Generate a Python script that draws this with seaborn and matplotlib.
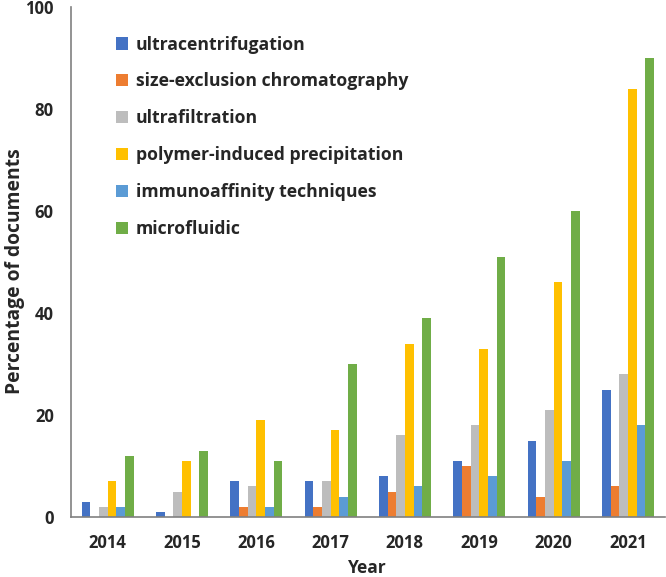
import matplotlib
matplotlib.use("Agg")
import matplotlib.pyplot as plt
import seaborn as sns
import pandas as pd
from matplotlib.patches import Patch

years = ["2014", "2015", "2016", "2017", "2018", "2019", "2020", "2021"]
methods = ["ultracentrifugation", "size-exclusion chromatography", "ultrafiltration",
           "polymer-induced precipitation", "immunoaffinity techniques", "microfluidic"]
ultracentrifugation = [3, 1, 7, 7, 8, 11, 15, 25]
size_exclusion = [0, 0, 2, 2, 5, 10, 4, 6]
ultrafiltration = [2, 5, 6, 7, 16, 18, 21, 28]
polymer_precip = [7, 11, 19, 17, 34, 33, 46, 84]
immunoaffinity = [2, 0, 2, 4, 6, 8, 11, 18]
microfluidic = [12, 13, 11, 30, 39, 51, 60, 90]
colors = ["#4472C4", "#ED7D31", "#BDBDBD", "#FFC000", "#5B9BD5", "#70AD47"]

series = [ultracentrifugation, size_exclusion, ultrafiltration,
          polymer_precip, immunoaffinity, microfluidic]
rows = []
for m, vals in zip(methods, series):
    for y, v in zip(years, vals):
        rows.append({"Year": y, "Method": m, "Value": v})
df = pd.DataFrame(rows)

sns.set_style("white")
plt.rcParams['font.family'] = ['Open Sans', 'DejaVu Sans']

fig = plt.figure(figsize=(6.66, 5.77), dpi=100)
ax = fig.add_axes([70.5/666, 1-517/577, (665-70.5)/666, (517-7)/577])
sns.barplot(data=df, x="Year", y="Value", hue="Method", order=years, hue_order=methods,
            palette=colors, width=0.7, saturation=1, ax=ax, legend=False, errorbar=None,
            linewidth=0, edgecolor="none")

ax.set_xlim(-0.5, 7.5)
ax.set_ylim(0, 100)
ax.set_yticks([0, 20, 40, 60, 80, 100])
for s in ["top", "right"]:
    ax.spines[s].set_visible(False)
for s in ["left", "bottom"]:
    ax.spines[s].set_color("#808080")
    ax.spines[s].set_linewidth(1.2)
ax.set_xticks([-0.5, 7.5], minor=True)
ax.tick_params(axis="both", which="both", direction="out", length=5, width=1.2, color="#808080",
               labelsize=12, pad=7)
for lab in ax.get_xticklabels() + ax.get_yticklabels():
    lab.set_fontweight("bold")
ax.set_xlabel("Year", fontsize=12.5, fontweight="bold")
ax.xaxis.set_label_coords(0.5, -0.083)

ylab = ax.set_ylabel("Percentage of documents", fontsize=12, fontweight="bold")
fig.canvas.draw()
h = ylab.get_window_extent(fig.canvas.get_renderer()).height
ylab.set_fontsize(12 * 245.0 / h)
ylab.set_verticalalignment("center")
ylab.set_rotation_mode("anchor")
ax.yaxis.set_label_coords(-0.094, 0.483)

handles = [Patch(facecolor=c, edgecolor="none") for c in colors]
leg = ax.legend(handles, methods, loc="upper left", bbox_to_anchor=(0.05, 0.975),
                frameon=False, fontsize=12.7, handlelength=0.7, handleheight=0.7,
                labelspacing=1.07, handletextpad=0.4)
for t in leg.get_texts():
    t.set_fontweight("bold")

fig.savefig("out.png", dpi=100)
